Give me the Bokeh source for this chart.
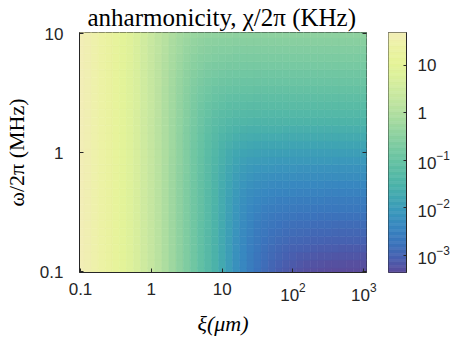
import numpy as np
from bokeh.plotting import figure
from bokeh.models import (Range1d, LinearColorMapper, LogAxis, LogTicker,
                          LogTickFormatter, Title, ColumnDataSource)
from bokeh.layouts import row
from bokeh.embed import file_html
from bokeh.resources import INLINE

# ---------------- data ----------------
xi_um = [0.1, 0.126, 0.158, 0.2, 0.251, 0.316, 0.398, 0.501, 0.631, 0.794,
         1.0, 1.26, 1.58, 2.0, 2.51, 3.16, 3.98, 5.01, 6.31, 7.94,
         10, 12.6, 15.8, 20, 25.1, 31.6, 39.8, 50.1, 63.1, 79.4,
         100, 126, 158, 200, 251, 316, 398, 501, 631, 794, 1000]
omega_mhz = [0.1, 0.1166, 0.1359, 0.1585, 0.1848, 0.2154, 0.2512, 0.2929, 0.3415,
             0.3981, 0.4642, 0.5412, 0.631, 0.7356, 0.8577, 1.0, 1.166, 1.359,
             1.585, 1.848, 2.154, 2.512, 2.929, 3.415, 3.981, 4.642, 5.412,
             6.31, 7.356, 8.577, 10.0]
# log10 of the xi-dependent part of chi/2pi (KHz), one per xi column
log_chi_small = [1.68, 1.60, 1.50, 1.40, 1.28, 1.15, 1.00, 0.85, 0.68, 0.50,
                 0.32, 0.14, -0.05, -0.25, -0.45, -0.65, -0.87, -1.08, -1.30, -1.52,
                 -1.75, -1.98, -2.22, -2.44, -2.65, -2.85, -3.03, -3.20, -3.36, -3.50,
                 -3.64, -3.78, -3.92, -4.06, -4.20, -4.34, -4.48, -4.62, -4.76, -4.90, -5.04]
# log10 of the omega-dependent floor of chi/2pi (KHz), one per omega row
log_chi_floor = [-3.38, -3.30, -3.21, -3.12, -3.03, -2.94, -2.86, -2.77, -2.67, -2.58,
                 -2.48, -2.38, -2.27, -2.17, -2.06, -1.95, -1.83, -1.71, -1.59, -1.47,
                 -1.36, -1.25, -1.14, -1.04, -0.95, -0.86, -0.77, -0.69, -0.61, -0.53, -0.45]
cbar_low, cbar_high = -3.36, 1.69   # log10 KHz limits of the colour scale

title_text = "anharmonicity, χ/2π (KHz)"
x_label = "ξ(μm)"
y_label = "ω/2π (MHz)"

# ---------------- colour map ----------------
anch_L = [-3.36, -3.05, -2.73, -2.40, -2.10, -1.80, -1.47, -1.15, -0.83, -0.50,
          -0.20, 0.10, 0.43, 0.75, 1.06, 1.40, 1.69]
anch_c = ["#5b4a9a", "#4760b0", "#3b74bc", "#3886c0", "#3a96bc", "#40a6b2", "#4eb4a8",
          "#5ebea4", "#72c7a2", "#8ad0a0", "#a2d9a0", "#b8e1a0", "#cbe9a0", "#dbf09c",
          "#e5f398", "#ecf2a4", "#f2eeb8"]
rgb = np.array([[int(c[i:i + 2], 16) for i in (1, 3, 5)] for c in anch_c], float)
N = 256
lv = cbar_low + (np.arange(N) + 0.5) / N * (cbar_high - cbar_low)
palette = []
for L in lv:
    r, g, b = (np.interp(L, anch_L, rgb[:, k]) for k in range(3))
    palette.append("#%02x%02x%02x" % (int(round(r)), int(round(g)), int(round(b))))
mapper = LinearColorMapper(palette=palette, low=cbar_low, high=cbar_high)

# ---------------- cells ----------------
xi = np.array(xi_um, float)
om = np.array(omega_mhz, float)


def edges(c):
    m = np.sqrt(c[:-1] * c[1:])
    return np.concatenate([[c[0] ** 2 / m[0]], m, [c[-1] ** 2 / m[-1]]])


xe, ye = edges(xi), edges(om)
ls = np.array(log_chi_small)
lf = np.array(log_chi_floor)
Z = np.log10(10 ** ls[None, :] + 10 ** lf[:, None])
ny, nx = Z.shape
src = ColumnDataSource(dict(
    left=np.tile(xe[:-1], ny), right=np.tile(xe[1:], ny),
    bottom=np.repeat(ye[:-1], nx), top=np.repeat(ye[1:], nx), z=Z.ravel()))

INK = "#262626"
TICK_FONT = "Liberation Sans"
SERIF = "Liberation Serif"

p = figure(x_axis_type="log", y_axis_type="log",
           x_range=Range1d(10 ** -1.014, 10 ** 3.038),
           y_range=Range1d(10 ** -1.005, 10 ** 1.012),
           width=378, height=343,
           min_border_left=76, min_border_right=12, min_border_top=32, min_border_bottom=71,
           toolbar_location=None, output_backend="svg")
p.title = Title(text=title_text, align="left", offset=8, text_font=SERIF,
                text_font_size="25px", text_font_style="normal",
                text_color="#000000", standoff=3)
p.grid.visible = False
p.outline_line_color = INK
p.outline_line_width = 1
cmap = {"field": "z", "transform": mapper}
p.quad(left="left", right="right", bottom="bottom", top="top", source=src,
       fill_color=cmap, line_color=cmap, line_width=0.6)


def style(ax, size="17px"):
    ax.axis_line_color = INK
    ax.major_tick_line_color = INK
    ax.major_tick_in = 4
    ax.major_tick_out = 0
    ax.minor_tick_line_color = None
    ax.major_label_text_font = TICK_FONT
    ax.major_label_text_font_size = size
    ax.major_label_text_color = INK


for ax in (p.xaxis[0], p.yaxis[0]):
    style(ax)
    ax.formatter = LogTickFormatter(min_exponent=2)
    ax.axis_label_text_font = SERIF
    ax.axis_label_text_font_size = "22px"
    ax.axis_label_text_color = "#000000"
p.xaxis.major_label_standoff = 6
p.yaxis.major_label_standoff = 12
p.xaxis.axis_label = x_label
p.xaxis.axis_label_text_font_style = "italic"
p.xaxis.axis_label_standoff = 7
p.yaxis.axis_label = y_label
p.yaxis.axis_label_text_font_style = "normal"
p.yaxis.axis_label_standoff = 8

ax_m = LogAxis(ticker=LogTicker())
style(ax_m, "0px")
ax_m.axis_line_color = None
ax_m.major_label_standoff = 0
ax_m.major_label_text_alpha = 0
p.add_layout(ax_m, "right")

# ---------------- colour bar ----------------
cb = figure(y_axis_type="log", x_range=Range1d(0, 1),
            y_range=Range1d(10 ** cbar_low, 10 ** cbar_high),
            y_axis_location="right", width=74, height=343,
            min_border_left=10, min_border_right=40, min_border_top=32, min_border_bottom=71,
            toolbar_location=None, output_backend="svg")
cb.xaxis.visible = False
cb.grid.visible = False
cb.outline_line_color = INK
lev = np.linspace(cbar_low, cbar_high, 201)
csrc = ColumnDataSource(dict(bottom=10 ** lev[:-1], top=10 ** lev[1:],
                             z=(lev[:-1] + lev[1:]) / 2))
cb.quad(left=0, right=1, bottom="bottom", top="top", source=csrc,
        fill_color=cmap, line_color=cmap, line_width=0.6)
style(cb.yaxis[0], "17px")
cb.yaxis.major_tick_in = 3
cb.yaxis.major_label_standoff = 7
cb.yaxis.formatter = LogTickFormatter()
cb.yaxis.major_label_overrides = {10: "10", 1: "1"}

layout = row(p, cb)
open("out.html", "w").write(file_html(layout, INLINE))
